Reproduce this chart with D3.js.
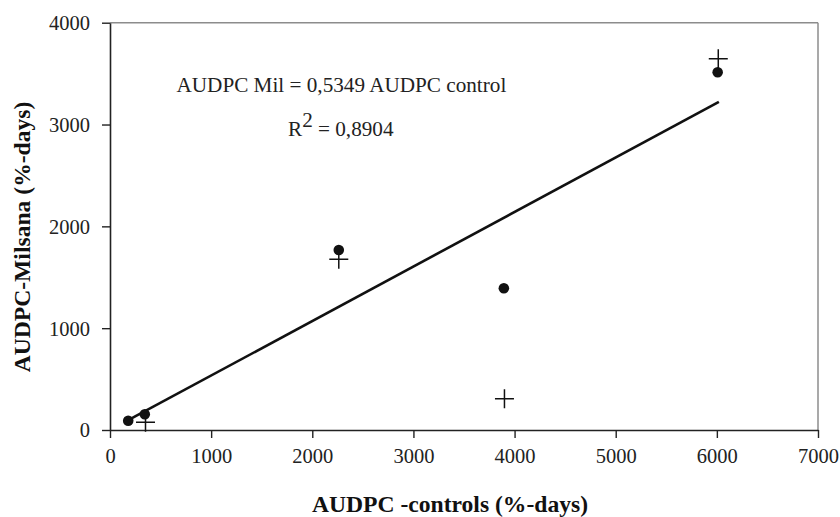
<!DOCTYPE html>
<html>
<head>
<meta charset="utf-8">
<script src="https://cdn.jsdelivr.net/npm/d3@7"></script>
<style>
  html, body { margin: 0; padding: 0; background: #fff; }
  svg { display: block; font-family: "Liberation Serif", "Times New Roman", serif; }
</style>
</head>
<body>
<svg id="chart" width="840" height="517"></svg>
<script>
// Valeurs
const dotX = [180, 344, 2262, 3894, 6008];
const dotY = [91, 154, 1768, 1392, 3514];
const crossX = [351, 2262, 3900, 6014];
const crossY = [76, 1677, 307, 3647];
const trendX = [180, 6020];
const trendY = [96, 3222];
const xTicks = [0, 1000, 2000, 3000, 4000, 5000, 6000, 7000];
const yTicks = [0, 1000, 2000, 3000, 4000];

const svg = d3.select('#chart');
const plotLeft = 110, plotRight = 818, plotTop = 22.7, plotBottom = 430;

const x = d3.scaleLinear().domain([0, 7000]).range([plotLeft, plotRight]);
const y = d3.scaleLinear().domain([0, 4000]).range([plotBottom, plotTop]);

// cadre gris haut / droite
svg.append('line')
  .attr('x1', plotLeft).attr('x2', plotRight).attr('y1', plotTop).attr('y2', plotTop)
  .attr('stroke', '#8c8c8c').attr('stroke-width', 1.5);
svg.append('line')
  .attr('x1', plotRight).attr('x2', plotRight).attr('y1', plotTop).attr('y2', plotBottom)
  .attr('stroke', '#8c8c8c').attr('stroke-width', 1.5);

// axes
const xAxis = svg.append('g')
  .attr('transform', `translate(0,${plotBottom})`)
  .call(d3.axisBottom(x).tickValues(xTicks).tickFormat(d3.format('d')).tickSizeInner(8).tickSizeOuter(0).tickPadding(10));
const yAxis = svg.append('g')
  .attr('transform', `translate(${plotLeft},0)`)
  .call(d3.axisLeft(y).tickValues(yTicks).tickFormat(d3.format('d')).tickSizeInner(8).tickSizeOuter(0).tickPadding(12));

[xAxis, yAxis].forEach(g => {
  g.attr('font-family', '"Liberation Serif", serif');
  g.select('.domain').attr('stroke', '#222').attr('stroke-width', 1.6);
  g.selectAll('.tick line').attr('stroke', '#222').attr('stroke-width', 1.4);
  g.selectAll('.tick text')
    .attr('fill', '#222')
    .style('font-family', '"Liberation Serif", serif')
    .style('font-size', '20.5px');
});
yAxis.selectAll('.tick text').attr('dy', '0.34em');

// droite de régression
svg.append('line')
  .attr('x1', x(trendX[0])).attr('y1', y(trendY[0]))
  .attr('x2', x(trendX[1])).attr('y2', y(trendY[1]))
  .attr('stroke', '#111').attr('stroke-width', 2.6);

// points
svg.append('g')
  .selectAll('circle')
  .data(dotX.map((d, i) => [d, dotY[i]]))
  .enter()
  .append('circle')
  .attr('cx', d => x(d[0]))
  .attr('cy', d => y(d[1]))
  .attr('r', 5.3)
  .attr('fill', '#111');

// croix
svg.append('g')
  .selectAll('path')
  .data(crossX.map((d, i) => [d, crossY[i]]))
  .enter()
  .append('path')
  .attr('d', d => {
    const cx = x(d[0]), cy = y(d[1]), h = 9.5;
    return `M${cx - h},${cy}H${cx + h}M${cx},${cy - h}V${cy + h}`;
  })
  .attr('stroke', '#111')
  .attr('stroke-width', 1.5)
  .attr('fill', 'none');

// équation
svg.append('text')
  .attr('x', 176.5).attr('y', 91.5)
  .style('font-size', '21.2px')
  .attr('fill', '#222')
  .text('AUDPC Mil = 0,5349 AUDPC control');

const r2 = svg.append('text')
  .attr('x', 288).attr('y', 135.5)
  .style('font-size', '21.2px')
  .attr('fill', '#222');
r2.append('tspan').text('R');
r2.append('tspan').attr('dy', -9).text('2');
r2.append('tspan').attr('dy', 9).text(' = 0,8904');

// titres des axes
svg.append('text')
  .attr('x', 450).attr('y', 512)
  .attr('text-anchor', 'middle')
  .style('font-size', '23.6px')
  .style('font-weight', 'bold')
  .attr('fill', '#111')
  .text('AUDPC -controls (%-days)');

svg.append('text')
  .attr('transform', 'translate(30,237) rotate(-90)')
  .attr('text-anchor', 'middle')
  .style('font-size', '23.6px')
  .style('font-weight', 'bold')
  .attr('fill', '#111')
  .text('AUDPC-Milsana (%-days)');
</script>
</body>
</html>
